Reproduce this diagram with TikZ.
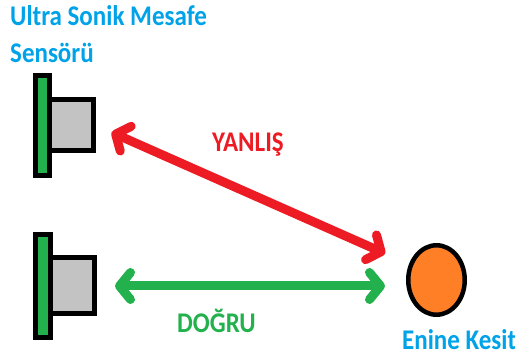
\documentclass[tikz,border=0pt]{standalone}
\usepackage{graphicx}
\usepackage{fontspec}
\setmainfont{Carlito}
\usetikzlibrary{arrows.meta,positioning,shapes.geometric}

\definecolor{paintblue}{HTML}{00A2E8}
\definecolor{paintred}{HTML}{ED1C24}
\definecolor{paintgreen}{HTML}{22B14C}
\definecolor{paintorange}{HTML}{FF7F27}
\definecolor{paintgray}{HTML}{C3C3C3}

% text in the drawing is a bit taller than the font
\newcommand{\talltxt}[1]{\scalebox{1}[1.14]{#1}}

\tikzset{
    lbl/.style={font=\fontsize{25}{30}\selectfont\bfseries, inner sep=0pt},
    sbar/.style={draw=black, line width=5pt, fill=paintgreen, inner sep=0pt},
    sbox/.style={draw=black, line width=5pt, fill=paintgray, inner sep=0pt,
        minimum width=44pt},
    beam/.style={line width=9pt, line cap=round,
        {Straight Barb[round,length=11pt,width=27pt]}-{Straight Barb[round,length=11pt,width=27pt]}},
}

\begin{document}
\begin{tikzpicture}[x=1pt, y=-1pt]
    \useasboundingbox (0,0) rectangle (515,363);

    \node[lbl, paintblue, anchor=base west] (sensname) at (10,26) {\talltxt{Ultra Sonik Mesafe}};
    \node[lbl, paintblue, anchor=base west] (sensname2) at (10,63) {\talltxt{Sensörü}};

    % upper sensor
    \node[sbar, minimum width=14pt, minimum height=100pt] (bar1) at (42.5,125.5) {};
    \node[sbox, minimum height=51pt, right=-5pt of bar1] (box1) {};

    % lower sensor
    \node[sbar, minimum width=15pt, minimum height=103pt] (bar2) at (43,286) {};
    \node[sbox, minimum height=56pt, right=-5pt of bar2] (box2) {};

    % cross section
    \node[ellipse, draw=black, line width=4.5pt, fill=paintorange,
        minimum width=56.5pt, minimum height=69.5pt, inner sep=0pt] (target) at (436.5,280) {};
    \node[lbl, paintblue, anchor=base west] (targetname) at (402,350) {\talltxt{Enine Kesit}};

    \draw[beam, paintred, shorten <=17pt, shorten >=26pt] (box1.east) -- (target.150);
    \node[lbl, paintred, anchor=base west] (wrong) at (212,152) {\talltxt{YANLIŞ}};

    \draw[beam, paintgreen, shorten <=18pt, shorten >=21pt] (box2.east) -- (box2.east -| target.west);
    \node[lbl, paintgreen, anchor=base west] (right) at (177,333) {\talltxt{DOĞRU}};
\end{tikzpicture}
\end{document}
